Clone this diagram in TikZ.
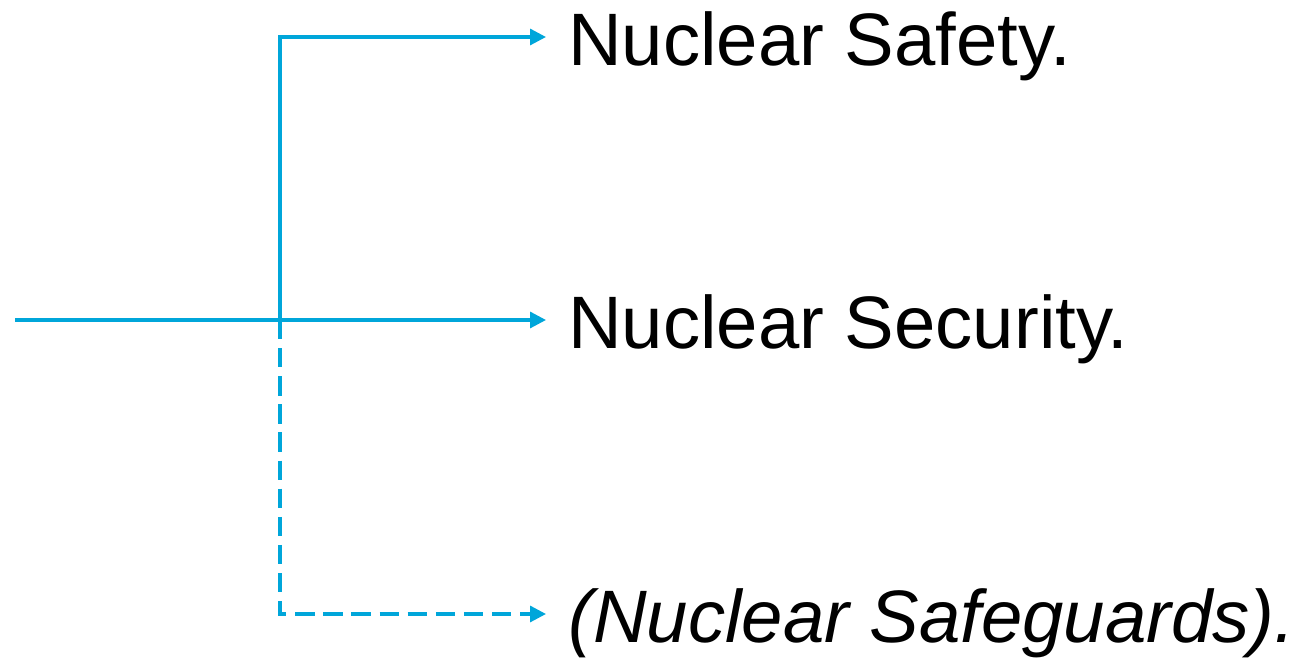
\documentclass[tikz,border=0pt]{standalone}
\usepackage{fontspec}
\setmainfont{Liberation Sans}
\usetikzlibrary{arrows.meta}
\definecolor{nucblue}{RGB}{0,166,218}
\begin{document}
\begin{tikzpicture}[x=0.02cm,y=-0.02cm,
		link/.style={nucblue,line width=1.8pt,-{Triangle[length=9pt,width=9pt]}},
		item/.style={anchor=west,inner xsep=12.5pt,inner ysep=0pt,text height=40pt,text depth=7.6pt,font=\fontsize{42.3pt}{48pt}\selectfont}]
		\useasboundingbox (0,0) rectangle (1306,658);
		\node[item] (safety) at (546,37) {Nuclear Safety.};
		\node[item] (security) at (546,320) {Nuclear Security.};
		\node[item] (safeguards) at (546,614) {\itshape (Nuclear Safeguards).};
		\coordinate (root) at (15,320);
		\coordinate (hub) at (280,320);

		\draw[link](root)--(security.west);
		\draw[link](hub)|-(safety.west);
		\draw[link,dash pattern=on 11pt off 5pt](hub)|-(safeguards.west);

	    \end{tikzpicture}
\end{document}
